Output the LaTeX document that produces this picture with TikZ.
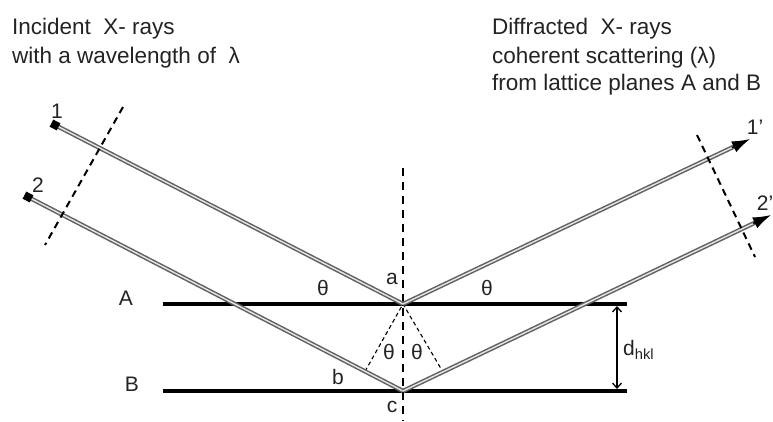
\documentclass[tikz,border=0pt]{standalone}
\usepackage{fontspec}
\setmainfont{Liberation Sans}
\usetikzlibrary{arrows.meta,calc}
\definecolor{txt}{RGB}{35,35,35}
\begin{document}
\begin{tikzpicture}[
    x=1pt, y=-1pt,
    ray/.style={draw=black!62, line width=1.5pt, double=black!10, double distance=1.4pt},
    tip/.style={black, line width=1.5pt, -{Latex[length=18pt, width=12pt]}},
    plane/.style={line width=4.5pt},
    wave/.style={line width=2pt, dash pattern=on 7pt off 5pt},
    axis/.style={line width=2pt, dash pattern=on 8pt off 6pt},
    aux/.style={line width=1.1pt, dash pattern=on 4pt off 3pt},
    startsq/.style={fill=black, minimum size=8pt, inner sep=0pt, sloped},
    lab/.style={font=\fontsize{21}{24}\selectfont, text=txt, inner sep=0pt},
    ttl/.style={font=\fontsize{22.5}{28}\selectfont, text=txt, inner sep=0pt, anchor=base west}]
  \useasboundingbox (0,0) rectangle (773,421);
  \clip (0,0) rectangle (773,421);
  % reflection points and ray ends
  \coordinate (a)  at (403,304);
  \coordinate (c)  at (403,391);
  \coordinate (s1) at (55,125);
  \coordinate (s2) at (28,197);
  \coordinate (e1) at (750,139);
  \coordinate (e2) at (771,215);
  \coordinate (h1) at ($(e1)!20pt!(a)$);
  \coordinate (h2) at ($(e2)!20pt!(c)$);
  \coordinate (A0) at (163,304);
  \coordinate (A1) at (627,304);
  \coordinate (B0) at (163,391);
  \coordinate (B1) at (627,391);
  \coordinate (vt) at (403,168);
  \coordinate (vb) at (403,421);
  \coordinate (w1t) at (123,107);
  \coordinate (w1b) at (45,245);
  \coordinate (w2t) at (697,135);
  \coordinate (w2b) at (755,257);
  \coordinate (pb) at ($(s2)!0.8987!(c)$);
  \coordinate (pr) at ($(c)!0.1084!(e2)$);
  \coordinate (d0) at (617,306);
  \coordinate (d1) at (617,389);
  % lattice planes
  \draw[plane] (A0) -- (A1);
  \draw[plane] (B0) -- (B1);
  \draw[axis] (vt) -- (vb);
  \draw[aux] (pb) -- (a) -- (pr);
  % incident and diffracted rays
  \draw[ray] (s1) -- node[startsq, pos=0] (sq1) {} (a);
  \draw[ray] (s2) -- node[startsq, pos=0] (sq2) {} (c);
  \draw[ray, shorten >=10pt] (a) -- (e1);
  \draw[ray, shorten >=10pt] (c) -- (e2);
  \draw[tip] (h1) -- (e1);
  \draw[tip] (h2) -- (e2);
  \draw[wave] (w1t) -- (w1b);
  \draw[wave] (w2t) -- (w2b);
  \draw[line width=1.3pt, {Straight Barb[length=5pt, width=9pt]}-{Straight Barb[length=5pt, width=9pt]}] (d0) -- (d1);
  % labels
  \node[lab, anchor=west] (dh) at (623,350) {d\textsubscript{hkl}};
  \node[lab] (n1)  at (57,111)  {1};
  \node[lab] (n2)  at (38,185)  {2};
  \node[lab] (n1p) at (755,127) {1’};
  \node[lab] (n2p) at (765,203) {2’};
  \node[lab] (lA)  at (126,298) {A};
  \node[lab] (lB)  at (132,384) {B};
  \node[lab] (la)  at (392,279) {a};
  \node[lab] (lb)  at (338,377) {b};
  \node[lab] (lc)  at (392,407) {c};
  \node[lab] (th1) at (323,288) {θ};
  \node[lab] (th2) at (487,288) {θ};
  \node[lab] (th3) at (389,352) {θ};
  \node[lab] (th4) at (417,352) {θ};
  \node[ttl] (t1) at (12,34)  {Incident~ X- rays};
  \node[ttl] (t2) at (12,63)  {with a wavelength of~ λ};
  \node[ttl] (t3) at (492,34) {Diffracted~ X- rays};
  \node[ttl] (t4) at (492,63) {coherent scattering (λ)};
  \node[ttl] (t5) at (492,90) {from lattice planes A and B};
\end{tikzpicture}
\end{document}
